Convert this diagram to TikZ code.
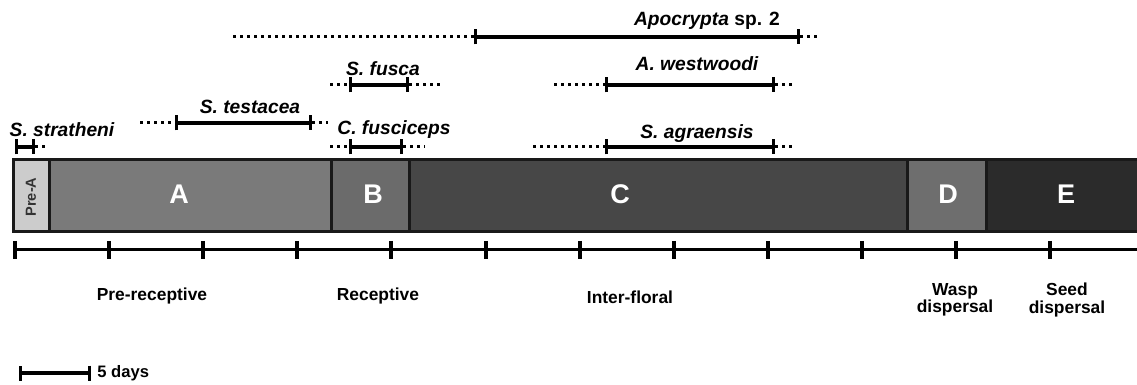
\documentclass[tikz,border=0pt]{standalone}
\usepackage{fontspec}
\setmainfont{Liberation Sans}
\usetikzlibrary{arrows.meta, positioning, calc}

\definecolor{phPre}{gray}{0.80}
\definecolor{phA}{gray}{0.48}
\definecolor{phB}{gray}{0.42}
\definecolor{phC}{gray}{0.28}
\definecolor{phD}{gray}{0.43}
\definecolor{phE}{gray}{0.17}

\begin{document}
\begin{tikzpicture}[x=0.5pt, y=-0.5pt,
  every node/.style={inner sep=0pt, font=\bfseries\fontsize{8.7}{8.6}\selectfont},
  phase/.style={draw=black!90, line width=1.5pt},
  letter/.style={text=white, font=\bfseries\fontsize{13.5}{14}\selectfont},
  species/.style={font=\bfseries\itshape\fontsize{9.6}{10}\selectfont},
  lifespan/.style={line width=2pt, {Bar[width=7.5pt, line width=1.5pt]}-{Bar[width=7.5pt, line width=1.5pt]}},
  dotrange/.style={line width=1.5pt, dash pattern=on 1.5pt off 2pt},
  axistick/.style={line width=2pt}]
  \useasboundingbox (0,0) rectangle (1137,385);

  % phases of fig development
  \foreach \l/\r/\c in {13/49/phPre, 49/331/phA, 331/409/phB, 409/907/phC, 907/986/phD, 986/1145/phE}
    \draw[phase, fill=\c] (\l,160) rectangle (\r,232);
  \node[rotate=90, font=\bfseries\fontsize{7.3}{8}\selectfont, text=black!80] (preA) at (31,197) {Pre-A};
  \foreach \n/\x in {A/179, B/373, C/620, D/948, E/1066}
    \node[letter] (ph\n) at (\x,194) {\n};

  % time axis
  \coordinate (ax0) at (15,250);
  \coordinate (ax1) at (1137,250);
  \draw[line width=1.5pt] (ax0) -- (ax1);
  \foreach \k in {0,...,11}
    \draw[axistick] ($(ax0)+(94.1*\k,-9)$) -- ++(0,18);

  \node (prerec) at (152,296) {Pre-receptive};
  \node (rec) at (378,296) {Receptive};
  \node (inter) at (630,297) {Inter-floral};
  \node[align=center] (wasp) at (955,300) {Wasp\\dispersal};
  \node[align=center] (seed) at (1067,300) {Seed\\dispersal};

  % wasp species: y / dotted left / solid left / solid right / dotted right / label
  \foreach \n/\y/\a/\b/\c/\d/\lx/\ly/\t in {
      strat/147/15/15/35/45/62/130/{S. stratheni},
      testa/123/140/175/312/328/250/107/{S. testacea},
      fusci/147/330/349/403/425/394/130/{C. fusciceps},
      fusca/85/330/349/409/443/383/69/{S. fusca},
      apoc/37/233/474/800/818/707/21/{Apocrypta \upshape sp. 2},
      westw/85/554/605/775/793/697/64/{A. westwoodi},
      agra/147/533/605/775/795/697/134/{S. agraensis}} {
    \coordinate (\n dl) at (\a,\y);
    \coordinate (\n sl) at (\b,\y);
    \coordinate (\n sr) at (\c,\y);
    \coordinate (\n dr) at (\d,\y);
    \draw[dotrange] (\n dl) -- (\n sl);
    \draw[dotrange] (\n sr) -- (\n dr);
    \draw[lifespan] (\n sl) -- (\n sr);
    \node[species] (\n) at (\lx,\ly) {\t};
  }

  % scale bar
  \coordinate (sb0) at (19,373);
  \coordinate (sb1) at (91,373);
  \draw[lifespan] (sb0) -- (sb1);
  \node[right=3pt of sb1, font=\bfseries\fontsize{8.3}{9}\selectfont] (sblab) {5 days};
\end{tikzpicture}
\end{document}
